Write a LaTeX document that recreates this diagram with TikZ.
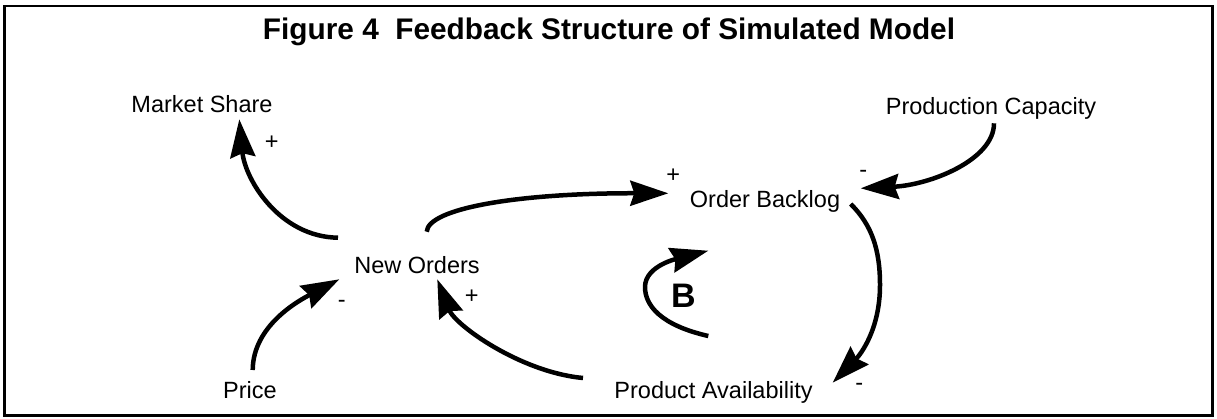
\documentclass[tikz,border=0pt]{standalone}
\usepackage{fontspec}
\setmainfont{Liberation Sans}
\usetikzlibrary{arrows.meta}
\begin{document}
\begin{tikzpicture}[x=1pt,y=-1pt,
  lbl/.style={anchor=base,inner sep=0pt,font=\fontsize{23.5}{28}\selectfont},
  sgn/.style={anchor=base,inner sep=0pt,font=\fontsize{23.5}{28}\selectfont},
  link/.style={line width=4.5pt,-{Stealth[length=38pt,width=25pt,inset=4pt]}},
  frame/.style={line width=2.5pt}]
\useasboundingbox (0,0) rectangle (1217,418);
\draw[frame] (4.5,6) rectangle (1212.5,415.5);
\node[anchor=base,inner sep=0pt,font=\fontsize{29.8}{35}\selectfont\bfseries] (title) at (609,39.5) {Figure 4\ \ Feedback Structure of Simulated Model};
% variables
\node[lbl] (ms) at (202,112) {Market Share};
\node[lbl] (pc) at (991,114.3) {Production Capacity};
\node[lbl] (ob) at (765,207.3) {Order Backlog};
\node[lbl] (no) at (417,273.3) {New Orders};
\node[lbl] (pr) at (250,398.3) {Price};
\node[lbl] (pa) at (713.5,398.3) {Product Availability};
\node[anchor=center,inner sep=0pt,font=\fontsize{34}{40}\selectfont\bfseries] (b) at (683.3,296) {B};
% signs
\node[sgn] (s1) at (271.7,149) {+};
\node[sgn] (s2) at (673.3,182) {+};
\node[sgn] (s3) at (863.3,177) {-};
\node[sgn] (s4) at (341.7,307) {-};
\node[sgn] (s5) at (471.7,303) {+};
\node[sgn] (s6) at (859.3,390) {-};
% connector end points
\coordinate (noA) at (338,237.7);
\coordinate (msIn) at (239.3,119.3);
\coordinate (noB) at (426.7,231.7);
\coordinate (obIn) at (668.3,193.3);
\coordinate (pcOut) at (994,123.3);
\coordinate (obIn2) at (860.7,188.3);
\coordinate (obOut) at (850.7,204);
\coordinate (paIn) at (832.7,382.7);
\coordinate (paOut) at (583,378);
\coordinate (noIn) at (437.3,279.3);
\coordinate (prOut) at (252.7,370);
\coordinate (noIn2) at (339.3,279.3);
\coordinate (bS) at (708.3,336);
\coordinate (bE) at (708.3,250.7);
% links
\draw[link] (noA) .. controls (280,237) and (245,180) .. (msIn);
\draw[link] (noB) .. controls (428,208) and (520,193) .. (obIn);
\draw[link] (pcOut) .. controls (994,160) and (930,185) .. (obIn2);
\draw[link] (obOut) .. controls (872,225) and (880,250) .. (880,285) .. controls (880,330) and (860,355) .. (paIn);
\draw[link] (paOut) .. controls (520,372) and (455,325) .. (noIn);
\draw[link] (prOut) .. controls (253,325) and (300,300) .. (noIn2);
\draw[link] (bS) .. controls (660,325) and (645,305) .. (645,287) .. controls (645,265) and (680,258) .. (bE);
\end{tikzpicture}
\end{document}
